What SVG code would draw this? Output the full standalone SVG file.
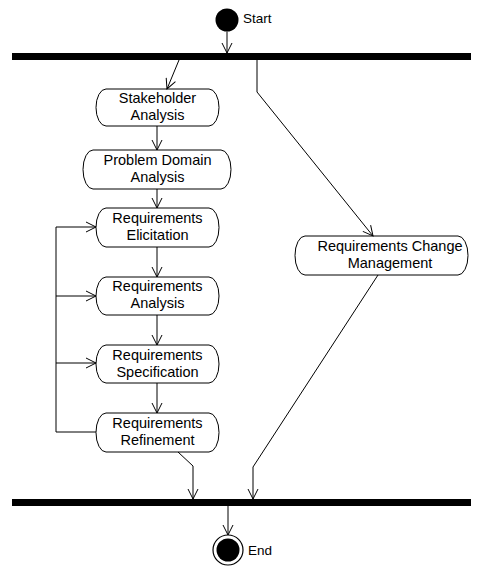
<svg xmlns="http://www.w3.org/2000/svg" width="478" height="566" viewBox="0 0 478 566">
<style>
.n{fill:#fff;stroke:#000;stroke-width:1}
.t{font-family:"Liberation Sans",Arial,sans-serif;font-size:14.5px;fill:#000;text-anchor:middle}
.l{font-family:"Liberation Sans",Arial,sans-serif;font-size:13.5px;fill:#000}
.c{fill:none;stroke:#000;stroke-width:1}
</style>
<defs>
<marker id="a" markerUnits="userSpaceOnUse" markerWidth="12" markerHeight="12" refX="10" refY="5" orient="auto" overflow="visible">
<path d="M0,0 L10,5 L0,10" fill="none" stroke="#000" stroke-width="1"/>
</marker>
</defs>
<rect width="478" height="566" fill="#fff"/>
<g id="start">
<circle cx="227" cy="20" r="11.5" fill="#000"/>
<text class="l" x="243" y="23">Start</text>
</g>
<g id="fork"><rect x="12" y="53" width="459" height="7" fill="#000"/></g>
<g id="join"><rect x="12" y="499" width="459" height="7" fill="#000"/></g>
<g id="end">
<circle cx="228" cy="550" r="15" fill="#fff" stroke="#000" stroke-width="1.2"/>
<circle cx="228" cy="550" r="11.5" fill="#000"/>
<text class="l" x="248" y="555">End</text>
</g>
<g id="stakeholder">
<path class="n" d="M106,89 H209 A10,18.5 0 0 1 209,126 H106 A10,18.5 0 0 1 106,89 Z"/>
<text class="t" x="157.5" y="103">Stakeholder</text>
<text class="t" x="157.5" y="120">Analysis</text>
</g>
<g id="problem">
<path class="n" d="M93,150 H221 A10,19.5 0 0 1 221,189 H93 A10,19.5 0 0 1 93,150 Z"/>
<text class="t" x="157.5" y="165">Problem Domain</text>
<text class="t" x="157.5" y="182">Analysis</text>
</g>
<g id="elicitation">
<path class="n" d="M106,208 H209 A10,19.5 0 0 1 209,247 H106 A10,19.5 0 0 1 106,208 Z"/>
<text class="t" x="157.5" y="223">Requirements</text>
<text class="t" x="157.5" y="240">Elicitation</text>
</g>
<g id="analysis">
<path class="n" d="M106,277 H209 A10,19 0 0 1 209,315 H106 A10,19 0 0 1 106,277 Z"/>
<text class="t" x="157.5" y="291">Requirements</text>
<text class="t" x="157.5" y="308">Analysis</text>
</g>
<g id="specification">
<path class="n" d="M106,345 H209 A10,19 0 0 1 209,383 H106 A10,19 0 0 1 106,345 Z"/>
<text class="t" x="157.5" y="360">Requirements</text>
<text class="t" x="157.5" y="377">Specification</text>
</g>
<g id="refinement">
<path class="n" d="M106,413 H209 A10,19.5 0 0 1 209,452 H106 A10,19.5 0 0 1 106,413 Z"/>
<text class="t" x="157.5" y="428">Requirements</text>
<text class="t" x="157.5" y="445">Refinement</text>
</g>
<g id="change">
<path class="n" d="M305,236 H458 A10,19.5 0 0 1 458,275 H305 A10,19.5 0 0 1 305,236 Z"/>
<text class="t" x="390" y="251">Requirements Change</text>
<text class="t" x="390" y="268">Management</text>
</g>
<g id="connectors">
<path class="c" d="M227,31.5 V53" marker-end="url(#a)"/>
<path class="c" d="M179,60 L167,89" marker-end="url(#a)"/>
<path class="c" d="M257,60 V92 L373,236" marker-end="url(#a)"/>
<path class="c" d="M157,126 V150" marker-end="url(#a)"/>
<path class="c" d="M157,189 V208" marker-end="url(#a)"/>
<path class="c" d="M157,247 V277" marker-end="url(#a)"/>
<path class="c" d="M157,315 V345" marker-end="url(#a)"/>
<path class="c" d="M157,383 V413" marker-end="url(#a)"/>
<path class="c" d="M96,432 H56 V227 H96" marker-end="url(#a)"/>
<path class="c" d="M56,296 H96" marker-end="url(#a)"/>
<path class="c" d="M56,363 H96" marker-end="url(#a)"/>
<path class="c" d="M178,452 L193,466 V499" marker-end="url(#a)"/>
<path class="c" d="M378,275 L253,467 V499" marker-end="url(#a)"/>
<path class="c" d="M228,506 V535" marker-end="url(#a)"/>
</g>
</svg>
